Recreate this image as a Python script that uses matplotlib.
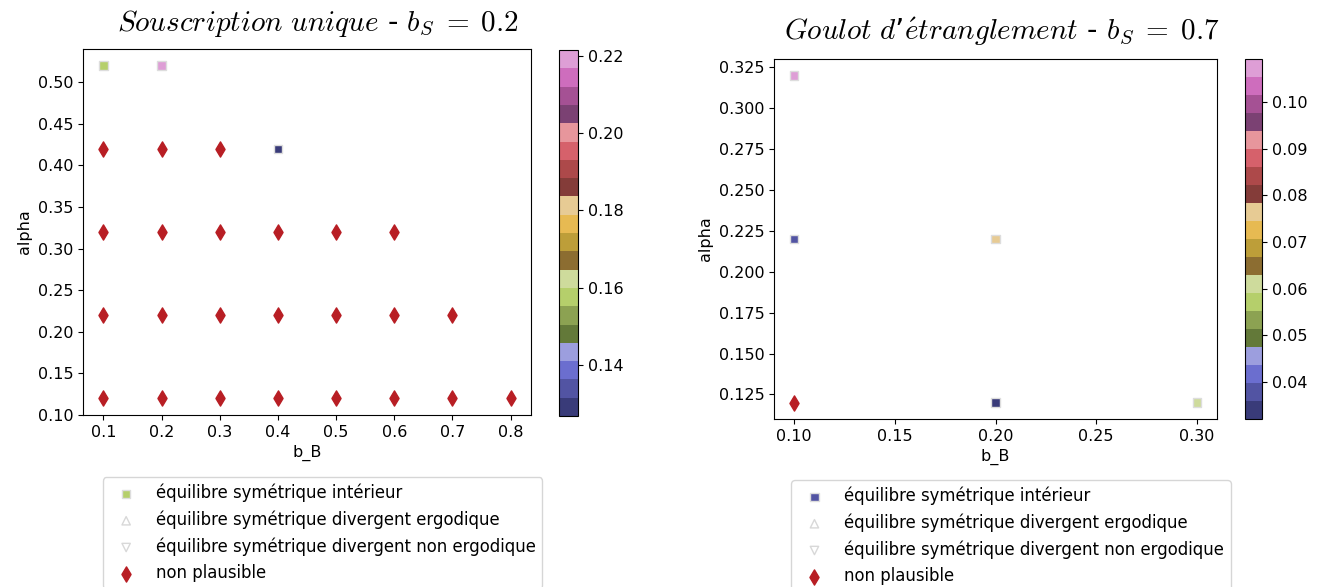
import matplotlib
matplotlib.use("Agg")
import matplotlib.pyplot as plt

plt.rcParams["mathtext.fontset"] = "cm"

# --- Souscription unique (b_S = 0.2) ---
left_int_bB = [0.1, 0.2, 0.4]
left_int_alpha = [0.52, 0.52, 0.42]
left_int_val = [0.158, 0.2215, 0.1268]

left_np_bB = [0.1, 0.2, 0.3,
              0.1, 0.2, 0.3, 0.4, 0.5, 0.6,
              0.1, 0.2, 0.3, 0.4, 0.5, 0.6, 0.7,
              0.1, 0.2, 0.3, 0.4, 0.5, 0.6, 0.7, 0.8]
left_np_alpha = [0.42, 0.42, 0.42,
                 0.32, 0.32, 0.32, 0.32, 0.32, 0.32,
                 0.22, 0.22, 0.22, 0.22, 0.22, 0.22, 0.22,
                 0.12, 0.12, 0.12, 0.12, 0.12, 0.12, 0.12, 0.12]

# --- Goulot d'étranglement (b_S = 0.7) ---
right_int_bB = [0.1, 0.1, 0.2, 0.2, 0.3]
right_int_alpha = [0.22, 0.32, 0.22, 0.12, 0.12]
right_int_val = [0.0378, 0.1093, 0.0764, 0.032, 0.061]

right_np_bB = [0.1]
right_np_alpha = [0.12]

empty = []

labels = ["équilibre symétrique intérieur",
          "équilibre symétrique divergent ergodique",
          "équilibre symétrique divergent non ergodique",
          "non plausible"]

W, H = 1327, 587
fig = plt.figure(figsize=(W / 100, H / 100), dpi=100)


def box(x0, y0, x1, y1):
    return [x0 / W, 1 - y1 / H, (x1 - x0) / W, (y1 - y0) / H]


def panel(ax_box, cb_box, ib, ia, iv, nb, na, title, title_x, title_pad, leg_anchor):
    ax = fig.add_axes(ax_box)
    cax = fig.add_axes(cb_box)
    sc = ax.scatter(ib, ia, c=iv, cmap="tab20b", marker="s", s=36,
                    edgecolors="#dddddd", linewidths=1.0, label=labels[0])
    ax.scatter(empty, empty, marker="^", facecolors="none",
               edgecolors="#d8d8d8", label=labels[1])
    ax.scatter(empty, empty, marker="v", facecolors="none",
               edgecolors="#d8d8d8", label=labels[2])
    ax.scatter(nb, na, marker="d", s=60, color="#b81e24",
               edgecolors="#b81e24", label=labels[3])
    ax.set_xlabel("b_B", fontsize=11.5)
    ax.set_ylabel("alpha", fontsize=11.5)
    ax.tick_params(labelsize=11.5)
    cb = fig.colorbar(sc, cax=cax)
    cb.ax.tick_params(labelsize=11.5)
    ax.set_title(title, fontsize=21, x=title_x, pad=title_pad)
    ax.legend(loc="upper center", bbox_to_anchor=leg_anchor, fontsize=11.9,
              frameon=True, borderaxespad=0)
    return ax


panel(box(83, 49, 531, 415), box(559, 50, 578, 416),
      left_int_bB, left_int_alpha, left_int_val, left_np_bB, left_np_alpha,
      r"$\mathit{Souscription\ unique}$ - $b_S\;=\;0.2$", 0.525, 13, (0.535, -0.17))

ax2 = panel(box(774, 59, 1217, 419), box(1245, 59, 1262, 419),
            right_int_bB, right_int_alpha, right_int_val, right_np_bB, right_np_alpha,
            r"$\mathit{Goulot\ d}$’$\mathit{\acute{e}tranglement}$ - $b_S\;=\;0.7$",
            0.515, 14, (0.535, -0.17))
ax2.set_xticks([0.10, 0.15, 0.20, 0.25, 0.30])

plt.savefig("out.png", dpi=100)
